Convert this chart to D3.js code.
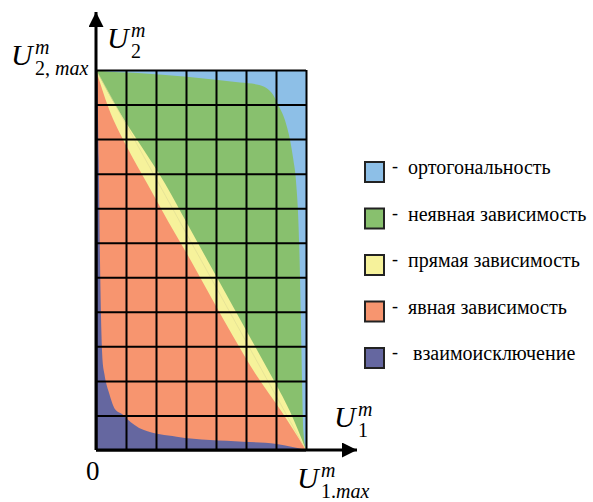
<!DOCTYPE html>
<html>
<head>
<meta charset="utf-8">
<script src="https://cdn.jsdelivr.net/npm/d3@7"></script>
<style>
  body { margin: 0; background: #fff; }
</style>
</head>
<body>
<svg width="593" height="502"></svg>
<script>
// boundaries, [U1, U2] as fractions of the max
var greenEdge = [[0,1],[0.019,0.998],[0.2,0.992],[0.432,0.982],[0.686,0.967],[0.765,0.962],[0.813,0.952],
  [0.844,0.934],[0.868,0.908],[0.9,0.868],[0.924,0.816],[0.94,0.763],[0.952,0.71],[0.968,0.535],
  [0.975,0.36],[0.981,0.184],[0.987,0.053],[1,0]];
var yellowEdge = [[0,1],[0.1,0.9],[0.215,0.8],[0.33,0.7],[0.43,0.6],[0.53,0.5],[0.63,0.4],
  [0.73,0.3],[0.83,0.2],[0.925,0.1],[1,0]];
var orangeEdge = [[0,1],[0.06,0.9],[0.145,0.8],[0.245,0.7],[0.345,0.6],[0.45,0.5],[0.55,0.4],
  [0.652,0.3],[0.76,0.2],[0.885,0.1],[1,0]];
var purpleEdge = [[0,1],[0.005,0.99],[0.013,0.763],[0.019,0.5],[0.025,0.324],[0.031,0.237],[0.04,0.2],
  [0.065,0.145],[0.09,0.108],[0.13,0.092],[0.146,0.083],[0.225,0.053],[0.384,0.035],[0.543,0.026],
  [0.701,0.022],[0.86,0.016],[1,0]];

var xGrid = [0,1,2,3,4,5,6,7];
var yGrid = [0,1,2,3,4,5,6,7,8,9,10,11];

var legendNames = ["ортогональность", "неявная зависимость", "прямая зависимость", "явная зависимость", " взаимоисключение"];
var colors = ["#8dbfe7", "#88c06e", "#f6f29b", "#f7956f", "#6567a0"];

var serif = "Liberation Serif";

var svg = d3.select("svg");

var x = d3.scaleLinear().domain([0, 1]).range([96, 306]);
var y = d3.scaleLinear().domain([0, 1]).range([450, 70]);
var gx = d3.scaleLinear().domain([0, 7]).range([96, 306]);
var gy = d3.scaleLinear().domain([0, 11]).range([450, 70]);

// blue background = orthogonality
svg.append("rect")
  .attr("x", x(0)).attr("y", y(1))
  .attr("width", x(1) - x(0)).attr("height", y(0) - y(1))
  .attr("fill", colors[0]);

var area = d3.area()
  .x(function(d) { return x(d[0]); })
  .y0(y(0))
  .y1(function(d) { return y(d[1]); })
  .curve(d3.curveMonotoneX);

[greenEdge, yellowEdge, orangeEdge, purpleEdge].forEach(function(edge, i) {
  svg.append("path")
    .attr("d", area(edge))
    .attr("fill", colors[i + 1]);
});

// faint diagonal inside the yellow band
svg.append("line")
  .attr("x1", x(0)).attr("y1", y(1))
  .attr("x2", x(1)).attr("y2", y(0))
  .attr("stroke", "#e0dc95").attr("stroke-width", 0.7);

// grid
svg.append("g")
  .attr("transform", "translate(0," + gy(0) + ")")
  .call(d3.axisBottom(gx).tickValues(xGrid).tickSize(-(gy(0) - gy(11))).tickFormat(""))
  .call(function(g) { g.select(".domain").remove(); })
  .selectAll("line").attr("stroke", "#000").attr("stroke-width", 2);

svg.append("g")
  .attr("transform", "translate(" + gx(0) + ",0)")
  .call(d3.axisLeft(gy).tickValues(yGrid).tickSize(-(gx(7) - gx(0))).tickFormat(""))
  .call(function(g) { g.select(".domain").remove(); })
  .selectAll("line").attr("stroke", "#000").attr("stroke-width", 2);

// axes with arrows
svg.append("defs").append("marker")
  .attr("id", "arrow")
  .attr("viewBox", "0 0 10 10")
  .attr("refX", 10).attr("refY", 5)
  .attr("markerWidth", 5).attr("markerHeight", 5)
  .attr("markerUnits", "strokeWidth")
  .attr("orient", "auto")
  .append("path").attr("d", "M0,0L10,5L0,10Z").attr("fill", "#000");

svg.append("line")
  .attr("x1", x(0)).attr("y1", y(0)).attr("x2", x(0)).attr("y2", 12)
  .attr("stroke", "#000").attr("stroke-width", 3).attr("marker-end", "url(#arrow)");
svg.append("line")
  .attr("x1", x(0)).attr("y1", y(0)).attr("x2", 357).attr("y2", y(0))
  .attr("stroke", "#000").attr("stroke-width", 3).attr("marker-end", "url(#arrow)");

// axis labels
function label(px, py, sub, subItalic) {
  var g = svg.append("g").attr("transform", "translate(" + px + "," + py + ")");
  g.append("text").style("font-family", serif).attr("font-size", 30).attr("font-style", "italic").text("U");
  g.append("text").style("font-family", serif).attr("x", 24).attr("y", -11).attr("font-size", 20).attr("font-style", "italic").text("m");
  var t = g.append("text").style("font-family", serif).attr("x", 24).attr("y", 10).attr("font-size", 20);
  t.append("tspan").text(sub);
  if (subItalic) t.append("tspan").attr("font-style", "italic").text(subItalic);
}
label(107, 48, "2");
label(11, 65, "2, ", "max");
label(334, 427, "1");
label(297, 488, "1.", "max");

svg.append("text").style("font-family", serif).attr("x", 86).attr("y", 480).attr("font-size", 27).text("0");

// legend
var leg = svg.append("g").selectAll("g").data(legendNames).join("g")
  .attr("transform", function(d, i) { return "translate(365," + (162 + i * 46.5) + ")"; });
leg.append("rect")
  .attr("width", 19).attr("height", 20)
  .attr("fill", function(d, i) { return colors[i]; })
  .attr("stroke", "#222").attr("stroke-width", 2);
leg.append("text").style("font-family", serif).attr("x", 27).attr("y", 10).attr("font-size", 18).text("-");
leg.append("text").style("font-family", serif).attr("x", 43).attr("y", 12).attr("font-size", 20)
  .style("white-space", "pre")
  .text(function(d) { return d; });
</script>
</body>
</html>
